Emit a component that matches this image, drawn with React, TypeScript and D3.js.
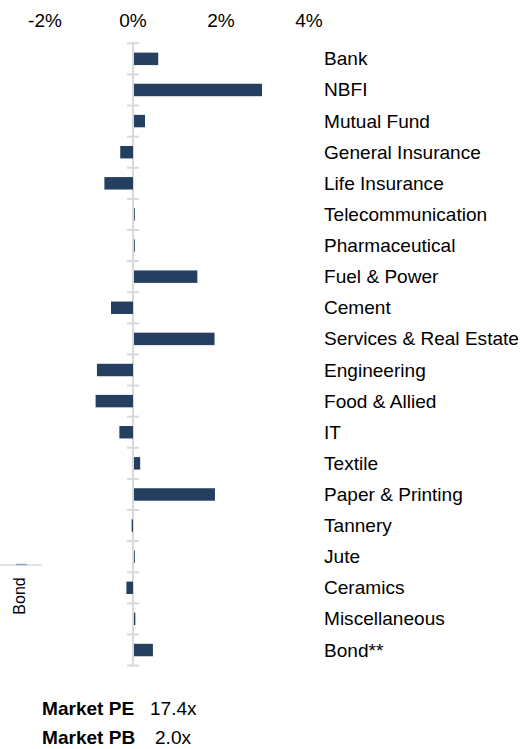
import React from "react";
import * as d3 from "d3";

const categories = [
  "Bank",
  "NBFI",
  "Mutual Fund",
  "General Insurance",
  "Life Insurance",
  "Telecommunication",
  "Pharmaceutical",
  "Fuel & Power",
  "Cement",
  "Services & Real Estate",
  "Engineering",
  "Food & Allied",
  "IT",
  "Textile",
  "Paper & Printing",
  "Tannery",
  "Jute",
  "Ceramics",
  "Miscellaneous",
  "Bond**",
];

// weight vs market, in %
const values = [
  0.55, 2.91, 0.25, -0.29, -0.65, 0.01, 0.01, 1.44, -0.5, 1.83, -0.82, -0.85,
  -0.31, 0.14, 1.84, -0.03, 0.01, -0.15, 0.03, 0.43,
];

const tickValues = [-2, 0, 2, 4];

const stats = [
  { label: "Market PE", value: "17.4x" },
  { label: "Market PB", value: "2.0x" },
];

const W = 523;
const H = 749;
const FONT = "Liberation Sans, Arial, sans-serif";
const STRETCH = 1.06; // the source text is a bit wider than Arial

export default function App() {
  const x = d3.scaleLinear().domain([-2, 4]).range([45, 309]);
  const y = d3
    .scaleBand<string>()
    .domain(categories)
    .range([43.3, 665.6])
    .paddingInner(0.6)
    .paddingOuter(0.3);

  const step = y.step();
  const top = y.range()[0];
  const boundaries = d3.range(categories.length + 1).map((i) => top + i * step);
  const x0 = x(0);

  const at = (px: number, py: number) => `translate(${px},${py}) scale(${STRETCH},1)`;

  return (
    <svg
      width={W}
      height={H}
      style={{ position: "absolute", left: 0, top: 0, background: "#fff" }}
      fontFamily={FONT}
    >
      {/* top axis labels */}
      {tickValues.map((t) => (
        <text key={t} transform={at(x(t), 27)} fontSize={18} textAnchor="middle" fill="#000">
          {t + "%"}
        </text>
      ))}

      {/* zero line with category ticks */}
      <line x1={x0} x2={x0} y1={boundaries[0]} y2={boundaries[boundaries.length - 1]} stroke="#d9d9d9" strokeWidth={2} />
      {boundaries.map((b, i) => (
        <line key={i} x1={x0 - 6} x2={x0 + 6} y1={b} y2={b} stroke="#d9d9d9" strokeWidth={2} />
      ))}

      {/* bars */}
      {categories.map((c, i) => {
        const v = values[i];
        const x1 = Math.min(x(0), x(v));
        const w = Math.abs(x(v) - x(0));
        return (
          <rect
            key={c}
            x={v >= 0 ? x1 + 1 : x1}
            y={y(c)}
            width={Math.max(w, 0.8)}
            height={y.bandwidth()}
            fill="#243f60"
          />
        );
      })}

      {/* category labels */}
      {categories.map((c) => (
        <text key={c} transform={at(324, (y(c) ?? 0) + y.bandwidth() / 2 + 6.5)} fontSize={18} fill="#000">
          {c}
        </text>
      ))}

      {/* stray legend fragment on the left */}
      <line x1={0} x2={42} y1={565} y2={565} stroke="#d9d9d9" strokeWidth={1.5} />
      <line x1={16} x2={27} y1={564.5} y2={564.5} stroke="#8eaadb" strokeWidth={1.5} />
      <text
        transform="translate(25,596) rotate(-90)"
        fontSize={16}
        textAnchor="middle"
        fill="#000"
      >
        Bond
      </text>

      {/* market stats */}
      {stats.map((s, i) => (
        <g key={s.label}>
          <text transform={at(42, 715 + i * 29)} fontSize={18} fontWeight="bold" fill="#000">
            {s.label}
          </text>
          <text transform={at(i === 0 ? 150 : 155, 715 + i * 29)} fontSize={18} fill="#000">
            {s.value}
          </text>
        </g>
      ))}
    </svg>
  );
}
